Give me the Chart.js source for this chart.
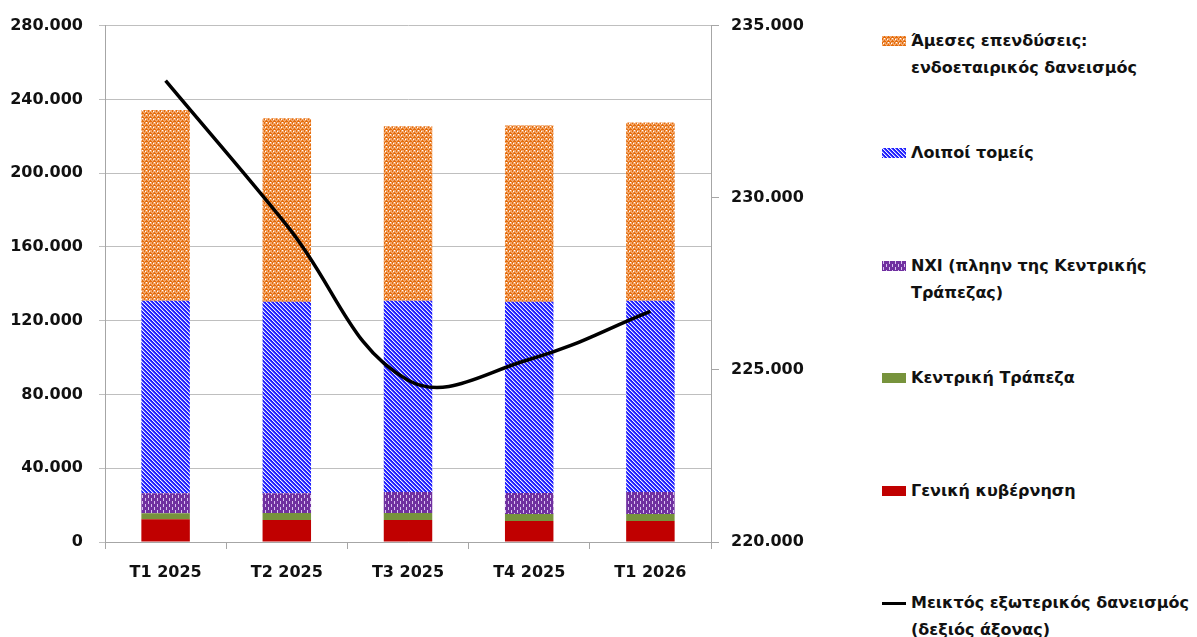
<!DOCTYPE html>
<html>
<head>
<meta charset="utf-8">
<script src="https://cdn.jsdelivr.net/npm/chart.js@4.4.1/dist/chart.umd.min.js"></script>
<style>
    html, body { margin: 0; padding: 0; background: #fff; }
    #wrap { position: relative; width: 1197px; height: 637px; }
    #chartBox { position: absolute; left: 0; top: 0; width: 860px; height: 637px; }
    .lg { position: absolute; left: 882px; font: bold 16px "DejaVu Sans", sans-serif; color: #111; line-height: 27px; }
    .lg canvas { position: absolute; left: 0; top: 9px; }
    .lg span { display: block; padding-left: 29px; white-space: nowrap; }
</style>
</head>
<body>
<div id="wrap">
    <div id="chartBox"><canvas id="c"></canvas></div>
    <div id="legend"></div>
</div>
<script>
// ─── data ───────────────────────────────────────────
var categories = ['T1 2025', 'T2 2025', 'T3 2025', 'T4 2025', 'T1 2026'];

var generalGov    = [12400, 11900, 11900, 11400, 11400];      // Γενική κυβέρνηση
var centralBank   = [3200, 3800, 3800, 3800, 3800];           // Κεντρική Τράπεζα
var mfiExclCB     = [10800, 10800, 11400, 11400, 11900];      // ΝΧΙ
var otherSectors  = [104400, 103700, 103700, 103600, 103700]; // Λοιποί τομείς
var fdiIntercomp  = [103500, 99500, 94600, 95600, 96700];     // Άμεσες επενδύσεις
var grossDebt     = [233400, 229200, 224700, 225300, 226700]; // right axis

var leftTicks  = { min: 0, max: 280000, step: 40000 };
var rightTicks = { min: 220000, max: 235000, step: 5000 };

// ─── patterns ───────────────────────────────────────
function tile(w, h, paint) {
    var cv = document.createElement('canvas');
    cv.width = w; cv.height = h;
    paint(cv.getContext('2d'));
    return cv;
}

function px(g, color, pts) {
    g.fillStyle = color;
    for (var i = 0; i < pts.length; i += 2) g.fillRect(pts[i], pts[i + 1], 1, 1);
}

// herringbone-ish zigzag
var orangeTile = tile(8, 8, function (g) {
    g.fillStyle = '#F3A66A';
    g.fillRect(0, 0, 8, 8);
    px(g, '#E46C0A', [0,2, 1,1, 2,0, 3,1, 4,2, 5,1, 6,0, 7,1,
                      0,6, 1,5, 2,4, 3,5, 4,6, 5,5, 6,4, 7,5,
                      0,3, 2,1, 4,3, 6,1, 0,7, 2,5, 4,7, 6,5]);
    px(g, '#FFFFFF', [2, 2, 6, 6, 1, 7, 5, 3]);
});

// wide downward diagonal
var blueTile = tile(4, 4, function (g) {
    g.fillStyle = '#1E1EFF';
    g.fillRect(0, 0, 4, 4);
    px(g, '#F0F0FF', [0,0, 1,1, 2,2, 3,3]);
    px(g, '#6E6EFF', [1,0, 2,1, 3,2, 0,3]);
});

var purpleTile = tile(6, 6, function (g) {
    g.fillStyle = '#7030A0';
    g.fillRect(0, 0, 6, 6);
    g.fillStyle = '#D9C4F0';
    g.fillRect(1, 0, 1, 3);
    g.fillRect(4, 3, 1, 3);
});

var ctx = document.getElementById('c').getContext('2d');
var orangeFill = ctx.createPattern(orangeTile, 'repeat');
var blueFill = ctx.createPattern(blueTile, 'repeat');
var purpleFill = ctx.createPattern(purpleTile, 'repeat');

function fmt(v) {
    return String(v).replace(/\B(?=(\d{3})+(?!\d))/g, '.');
}

var tickFont = { family: 'DejaVu Sans', size: 16, weight: 'bold' };

function bar(label, data, fill) {
    return {
        type: 'bar', label: label, data: data, backgroundColor: fill,
        borderWidth: 0, yAxisID: 'y', order: 2, stack: 's',
        barPercentage: 0.4, categoryPercentage: 1
    };
}

new Chart(ctx, {
    data: {
        labels: categories,
        datasets: [
            bar('Γενική κυβέρνηση', generalGov, '#C00000'),
            bar('Κεντρική Τράπεζα', centralBank, '#77933C'),
            bar('NXI (πληην της Κεντρικής Τράπεζας)', mfiExclCB, purpleFill),
            bar('Λοιποί τομείς', otherSectors, blueFill),
            bar('Άμεσες επενδύσεις: ενδοεταιρικός δανεισμός', fdiIntercomp, orangeFill),
            {
                type: 'line', label: 'Μεικτός εξωτερικός δανεισμός (δεξιός άξονας)',
                data: grossDebt, yAxisID: 'y1', order: 1,
                borderColor: '#000', borderWidth: 3.5, tension: 0.4,
                pointRadius: 0, fill: false
            }
        ]
    },
    options: {
        responsive: true,
        maintainAspectRatio: false,
        animation: false,
        layout: { padding: { top: 24, left: 0, right: 0, bottom: 0 } },
        plugins: { legend: { display: false }, tooltip: { enabled: false } },
        scales: {
            x: {
                stacked: true,
                grid: { offset: true, drawOnChartArea: false, tickLength: 7, color: '#A6A6A6' },
                border: { color: '#A6A6A6' },
                ticks: { font: tickFont, color: '#111', padding: 14 },
                afterFit: function (s) { s.height = 95; }
            },
            y: {
                stacked: true,
                position: 'left',
                min: leftTicks.min, max: leftTicks.max,
                grid: { color: '#BFBFBF', tickLength: 6 },
                border: { color: '#A6A6A6' },
                ticks: { stepSize: leftTicks.step, font: tickFont, color: '#111', padding: 16, callback: fmt },
                afterFit: function (s) { s.width = 105; }
            },
            y1: {
                position: 'right',
                min: rightTicks.min, max: rightTicks.max,
                grid: { drawOnChartArea: false, tickLength: 8, color: '#A6A6A6' },
                border: { color: '#A6A6A6' },
                ticks: { stepSize: rightTicks.step, font: tickFont, color: '#111', padding: 12, callback: fmt },
                afterFit: function (s) { s.width = 149; }
            }
        }
    }
});

// ─── legend (html) ──────────────────────────────────
var legendItems = [
    { top: 27,  lines: ['Άμεσες επενδύσεις:', 'ενδοεταιρικός δανεισμός'], tile: orangeTile },
    { top: 139, lines: ['Λοιποί τομείς'], tile: blueTile },
    { top: 252, lines: ['NXI (πληην της Κεντρικής', 'Τράπεζας)'], tile: purpleTile },
    { top: 364, lines: ['Κεντρική Τράπεζα'], color: '#77933C' },
    { top: 477, lines: ['Γενική κυβέρνηση'], color: '#C00000' },
    { top: 589, lines: ['Μεικτός εξωτερικός δανεισμός', '(δεξιός άξονας)'], line: true }
];

var legendEl = document.getElementById('legend');
legendItems.forEach(function (it) {
    var div = document.createElement('div');
    div.className = 'lg';
    div.style.top = it.top + 'px';
    var sw = document.createElement('canvas');
    sw.width = 24; sw.height = 10;
    var g = sw.getContext('2d');
    if (it.line) {
        g.fillStyle = '#000';
        g.fillRect(0, 4, 24, 3);
    } else {
        g.fillStyle = it.tile ? g.createPattern(it.tile, 'repeat') : it.color;
        g.fillRect(0, 0, 24, 10);
    }
    div.appendChild(sw);
    it.lines.forEach(function (t) {
        var s = document.createElement('span');
        s.textContent = t;
        div.appendChild(s);
    });
    legendEl.appendChild(div);
});
</script>
</body>
</html>
